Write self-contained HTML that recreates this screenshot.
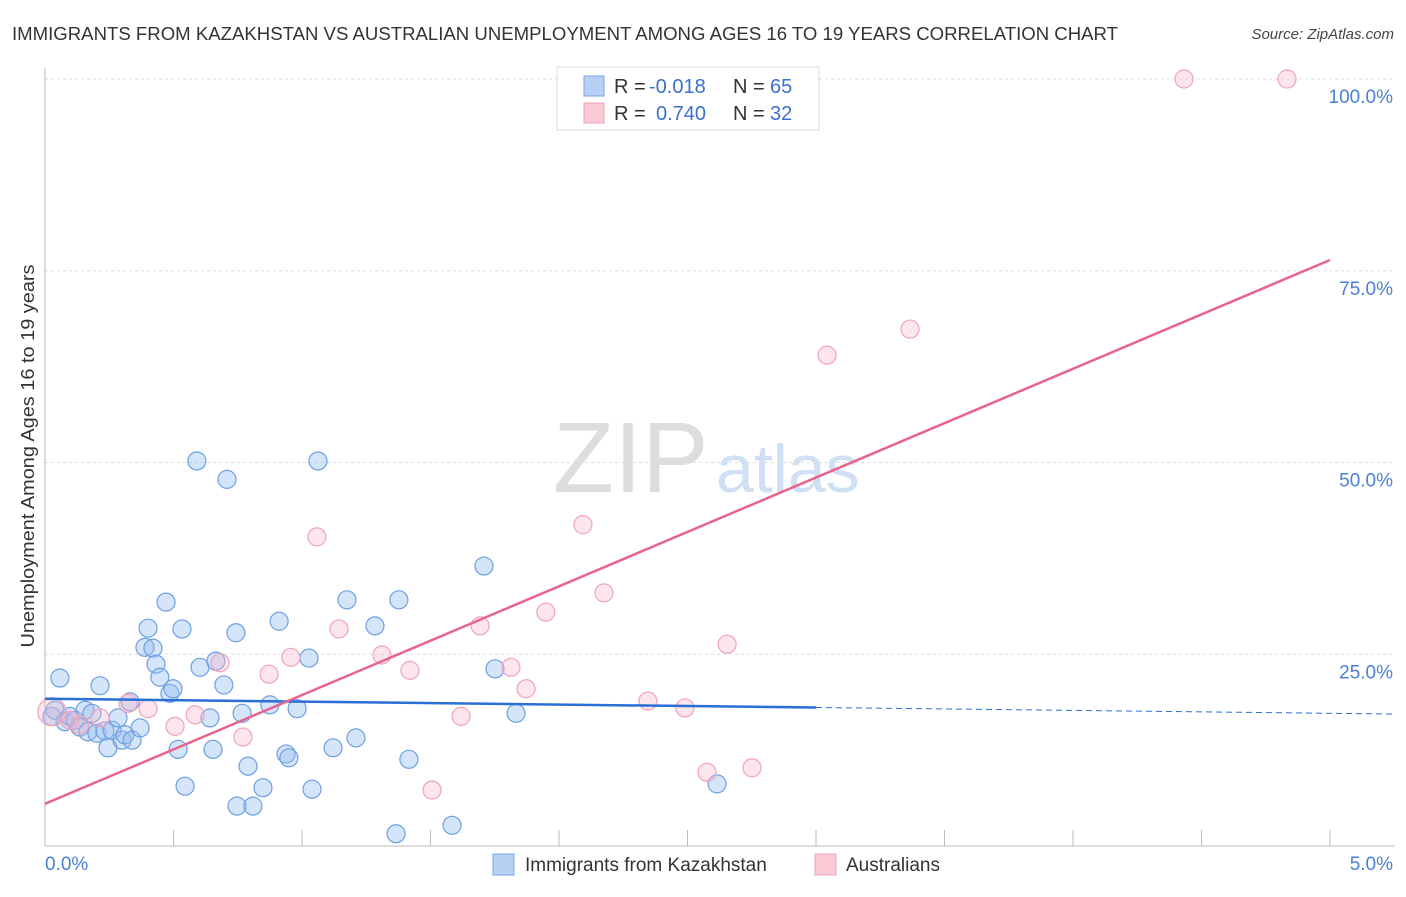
<!DOCTYPE html>
<html><head><meta charset="utf-8"><style>
body{margin:0;background:#fff;font-family:"Liberation Sans",sans-serif;}
svg text{font-family:"Liberation Sans",sans-serif;}
</style></head><body>
<svg id="chart" width="1406" height="892" xmlns="http://www.w3.org/2000/svg">
<text x="12" y="40" font-size="18" fill="#333" textLength="1106" lengthAdjust="spacingAndGlyphs">IMMIGRANTS FROM KAZAKHSTAN VS AUSTRALIAN UNEMPLOYMENT AMONG AGES 16 TO 19 YEARS CORRELATION CHART</text>
<text x="1394" y="39" font-size="15" fill="#444" text-anchor="end" font-style="italic">Source: ZipAtlas.com</text>
<text x="553" y="492" font-size="100" fill="#ddd" font-family="Liberation Serif, serif">ZIP</text>
<text x="716" y="492" font-size="68" fill="#cfdff4">atlas</text>
<g id="grid"></g>
<g id="axes"></g>
<g id="marks"></g>
<g id="trends"></g>
<text transform="translate(34,456) rotate(-90)" text-anchor="middle" font-size="18" fill="#333" textLength="383" lengthAdjust="spacingAndGlyphs">Unemployment Among Ages 16 to 19 years</text>
<text x="45" y="870" font-size="19" fill="#4a7fd6">0.0%</text>
<text x="1393" y="870" font-size="19" fill="#4a7fd6" text-anchor="end">5.0%</text>
<g>
<rect x="557" y="67" width="262" height="63" fill="#fff" stroke="#ddd"/>
<rect x="584" y="76" width="20" height="20" fill="#b7d0f4" stroke="#7aa6e6"/>
<rect x="584" y="103" width="20" height="20" fill="#f9c9d6" stroke="#eea3b8"/>
<text x="614" y="93" font-size="20" fill="#333">R =</text>
<text x="649" y="93" font-size="20" fill="#3a6fd0">-0.018</text>
<text x="733" y="93" font-size="20" fill="#333">N =</text>
<text x="770" y="93" font-size="20" fill="#3a6fd0">65</text>
<text x="614" y="120" font-size="20" fill="#333">R =</text>
<text x="656" y="120" font-size="20" fill="#3a6fd0">0.740</text>
<text x="733" y="120" font-size="20" fill="#333">N =</text>
<text x="770" y="120" font-size="20" fill="#3a6fd0">32</text>
</g>
<g>
<rect x="493" y="854" width="21" height="21" fill="#b7d0f4" stroke="#7aa6e6"/>
<text x="525" y="871" font-size="19" fill="#333">Immigrants from Kazakhstan</text>
<rect x="815" y="854" width="21" height="21" fill="#f9c9d6" stroke="#eea3b8"/>
<text x="846" y="871" font-size="19" fill="#333">Australians</text>
</g>
</svg>
<script>
const yTicks=[25,50,75,100];
const yTickLabels=["25.0%","50.0%","75.0%","100.0%"];
const xTicks=[0,0.5,1,1.5,2,2.5,3,3.5,4,4.5,5];
const blueX=[0.027,0.039,0.058,0.078,0.097,0.117,0.136,0.156,0.167,0.183,0.202,0.214,0.233,0.245,0.261,0.284,0.300,0.311,0.331,0.339,0.370,0.389,0.401,0.420,0.432,0.447,0.471,0.486,0.498,0.518,0.533,0.545,0.603,0.591,0.642,0.654,0.665,0.696,0.708,0.743,0.747,0.767,0.790,0.809,0.848,0.875,0.911,0.938,0.949,0.981,1.027,1.039,1.062,1.121,1.175,1.210,1.284,1.366,1.377,1.416,1.584,1.708,1.751,1.833,2.615];
const blueY=[16.9,17.7,21.9,16.2,16.9,16.4,15.5,17.7,14.9,17.3,14.7,20.9,15.0,12.8,15.1,16.7,13.8,14.5,18.8,13.8,15.4,25.9,28.4,25.8,23.7,22.0,31.8,19.9,20.5,12.6,28.3,7.8,23.3,50.2,16.7,12.6,24.1,21.0,47.8,27.8,5.2,17.3,10.4,5.2,7.6,18.4,29.3,12.0,11.5,17.9,24.5,7.4,50.2,12.8,32.1,14.1,28.7,1.6,32.1,11.3,2.7,36.5,23.1,17.3,8.1];
const pinkX=[0.027,0.097,0.136,0.214,0.323,0.401,0.506,0.584,0.681,0.770,0.872,0.957,1.058,1.144,1.311,1.420,1.506,1.619,1.693,1.813,1.872,1.949,2.093,2.175,2.346,2.490,2.576,2.654,2.751,3.043,3.366,4.432,4.833];
const pinkY=[17.5,16.4,15.8,16.7,18.6,17.9,15.6,17.1,23.9,14.2,22.4,24.6,40.3,28.3,24.9,22.9,7.3,16.9,28.7,23.3,20.5,30.5,41.9,33.0,18.9,18.0,9.6,26.3,10.2,64.0,67.4,100,100];
const blueTrend=[19.2,17.3];
const pinkTrend=[5.5,76.4];
const NS="http://www.w3.org/2000/svg";
const xs=v=>45+v*257;
const ys=u=>846-u*7.67;
function mk(tag,attrs,parent){const e=document.createElementNS(NS,tag);for(const k in attrs)e.setAttribute(k,attrs[k]);parent.appendChild(e);return e;}
const grid=document.getElementById('grid'),axes=document.getElementById('axes'),marks=document.getElementById('marks'),trends=document.getElementById('trends');
yTicks.forEach((t,i)=>{
 const l=mk('line',{x1:45,x2:1395,y1:ys(t),y2:ys(t),stroke:'#ddd','stroke-dasharray':'3,3'},grid);
 
 
 const tx=mk('text',{x:1393,y:ys(t)+24,'font-size':19,fill:'#4a7fd6','text-anchor':'end'},grid);
 tx.textContent=yTickLabels[i];
 
 
});
const ya=mk('line',{x1:45,x2:45,y1:68,y2:846,stroke:'#bbb'},axes);


const xa=mk('line',{x1:45,x2:1395,y1:846,y2:846,stroke:'#bbb'},axes);


xTicks.forEach(t=>{
 const l=mk('line',{x1:xs(t),x2:xs(t),y1:830,y2:846,stroke:'#bbb'},axes);
 
 
});
blueX.forEach((v,i)=>{
 const c=mk('circle',{cx:xs(v),cy:ys(blueY[i]),r:9,fill:'rgba(150,190,240,0.4)',stroke:'#6d9fe3','stroke-width':1.2},marks);
 
 
});
pinkX.forEach((v,i)=>{
 const c=mk('circle',{cx:xs(v),cy:ys(pinkY[i]),r:i===0?14:9,fill:'rgba(245,180,200,0.35)',stroke:'#f0a3ba','stroke-width':1.2},marks);
 
 
});
const bMid=blueTrend[0]+(blueTrend[1]-blueTrend[0])*(3/5);
const bl=mk('line',{x1:xs(0),y1:ys(blueTrend[0]),x2:xs(3),y2:ys(bMid),stroke:'#2a6fd6','stroke-width':2.5},trends);


const bd=mk('line',{x1:xs(3),y1:ys(bMid),x2:xs(5.25),y2:ys(blueTrend[0]+(blueTrend[1]-blueTrend[0])*1.05),stroke:'#2a6fd6','stroke-width':1,'stroke-dasharray':'6,4'},trends);


const pl=mk('line',{x1:xs(0),y1:ys(pinkTrend[0]),x2:xs(5),y2:ys(pinkTrend[1]),stroke:'#e8638e','stroke-width':2.5},trends);


</script>
</body></html>
